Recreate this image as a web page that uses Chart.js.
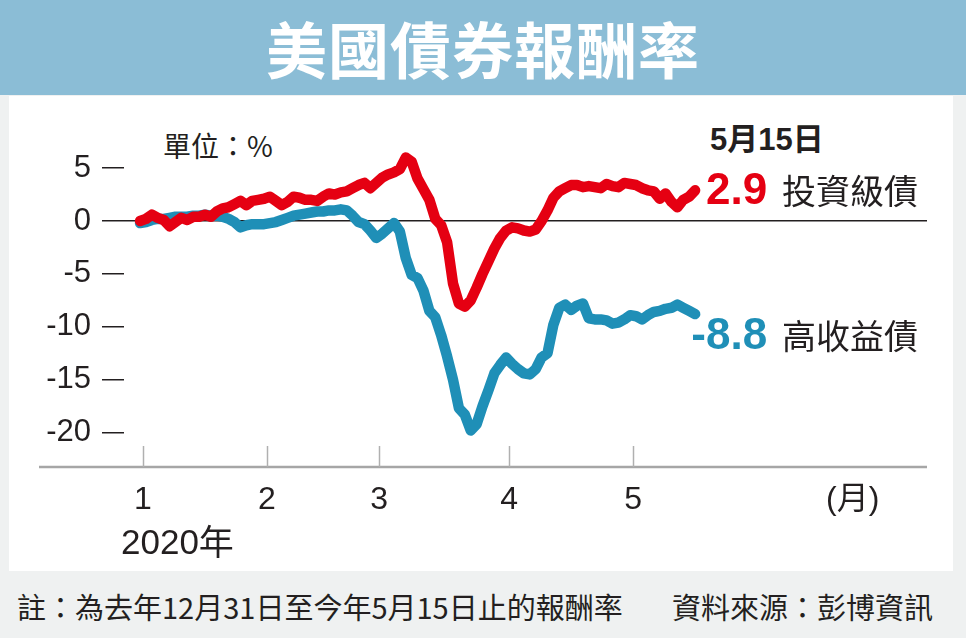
<!DOCTYPE html>
<html>
<head>
<meta charset="utf-8">
<script src="https://cdn.jsdelivr.net/npm/chart.js@4"></script>
<style>
  html, body { margin:0; padding:0; }
  body { width:966px; height:638px; background:#eff1f1; position:relative; overflow:hidden;
         font-family:"Noto Sans CJK TC","Noto Sans",sans-serif; }
  #titlebar { position:absolute; left:0; top:0; width:966px; height:95px; background:#8bbdd6;
              color:#fff; font-weight:bold; font-size:61px; line-height:95px; text-align:center; letter-spacing:1px; }
  #panel { position:absolute; left:9px; top:96px; width:944px; height:475px; background:#fff; }
  #unit { position:absolute; left:163px; top:125px; font-size:28px; color:#231f20; }
  #date { position:absolute; left:710px; top:114px; font-size:31px; font-weight:bold; color:#231f20;
          font-family:"Liberation Sans","Noto Sans CJK TC",sans-serif; }
  #date span { font-family:"Noto Sans CJK TC",sans-serif; }
  .foot { position:absolute; top:585px; font-size:29px; color:#231f20; white-space:pre; }
  #note { left:17px; }
  #source { left:672px; }
  #chart { position:absolute; left:0; top:0; }
</style>
</head>
<body>
<div id="titlebar">美國債券報酬率</div>
<div id="panel"></div>
<div id="unit">單位：%</div>
<div id="date">5<span>月</span>15<span>日</span></div>
<div class="foot" id="note">註：為去年12月31日至今年5月15日止的報酬率</div>
<div class="foot" id="source">資料來源：彭博資訊</div>
<canvas id="chart" width="966" height="638"></canvas>
<script>
// trading-day index (0 = 2019-12-31, 94 = 2020-05-15)
const tradingDay = [0,1,2,3,4,5,6,7,8,9,10,11,12,13,14,15,16,17,18,19,20,21,22,23,24,25,26,27,28,29,30,31,32,33,34,35,36,37,38,39,40,41,42,43,44,45,46,47,48,49,50,51,52,53,54,55,56,57,58,59,60,61,62,63,64,65,66,67,68,69,70,71,72,73,74,75,76,77,78,79,80,81,82,83,84,85,86,87,88,89,90,91,92,93,94];

// 投資級債 (investment grade) cumulative return, %
const investmentGrade = [0,0.2,0.6,0.3,0.1,-0.5,-0.1,0.3,0.1,0.4,0.4,0.6,0.4,0.9,1.2,1.3,1.6,1.9,1.5,1.9,2.0,2.1,2.3,1.9,1.5,1.8,2.3,2.2,2.0,2.0,1.9,2.3,2.6,2.5,2.7,2.8,3.1,3.4,3.6,3.1,3.6,4.1,4.4,4.6,4.9,6.0,5.6,4.0,3.0,2.0,0.2,-0.4,-2.0,-5.9,-7.8,-8.1,-7.5,-6.3,-5.0,-3.8,-2.6,-1.6,-0.9,-0.6,-0.7,-0.9,-1.0,-0.8,0.0,1.0,2.2,2.8,3.1,3.4,3.4,3.2,3.3,3.2,3.1,3.5,3.3,3.2,3.6,3.5,3.4,3.1,2.9,2.8,2.1,2.6,1.8,1.3,2.0,2.3,2.9];

// 高收益債 (high yield) cumulative return, %
const highYield = [-0.2,-0.1,0.1,0.2,0.2,0.3,0.4,0.4,0.4,0.5,0.5,0.6,0.5,0.5,0.4,0.2,-0.1,-0.6,-0.4,-0.3,-0.3,-0.3,-0.2,-0.1,0.1,0.3,0.5,0.6,0.7,0.8,0.9,0.9,1.0,1.0,1.1,1.0,0.5,-0.1,-0.3,-0.9,-1.6,-1.2,-0.7,-0.2,-1.0,-3.5,-5.1,-5.4,-6.6,-8.5,-9.1,-10.8,-12.8,-15.0,-17.7,-18.3,-19.8,-19.2,-17.5,-16.0,-14.4,-13.6,-12.9,-13.5,-14.0,-14.4,-14.5,-14.0,-12.9,-12.5,-9.8,-8.2,-7.9,-8.4,-8.0,-7.8,-9.2,-9.3,-9.3,-9.4,-9.7,-9.6,-9.3,-8.9,-9.0,-9.3,-8.9,-8.6,-8.5,-8.3,-8.2,-7.9,-8.2,-8.5,-8.8];

const seriesNames = ['投資級債', '高收益債'];
const endValueLabels = ['2.9', '-8.8'];

// x-axis ticks: month starts (between trading days), plus unit label
const monthTickPos = [0.5, 21.5, 40.5, 62.5, 83.5];
const monthTickLabels = ['1', '2', '3', '4', '5'];
const unitTickPos = 120.7;
const unitTickLabel = '(月)';
const yearLabel = '2020年';

const yTicks = [5, 0, -5, -10, -15, -20];

const RED = '#e50012';
const BLUE = '#1f8fb7';
const TEXT = '#231f20';

const xTickValues = monthTickPos.concat([unitTickPos]);
const xTickLabels = monthTickLabels.concat([unitTickLabel]);

const decoPlugin = {
  id: 'deco',
  beforeDatasetsDraw(chart) {
    const {ctx, chartArea, scales} = chart;
    const xs = scales.x;
    ctx.save();
    // x axis baseline (extends left past y labels)
    ctx.strokeStyle = '#a6a6a6';
    ctx.lineWidth = 2.5;
    ctx.beginPath();
    ctx.moveTo(39, chartArea.bottom);
    ctx.lineTo(chartArea.right, chartArea.bottom);
    ctx.stroke();
    // upward month tick marks
    ctx.lineWidth = 1.5;
    ctx.strokeStyle = '#b0b0b0';
    monthTickPos.forEach(v => {
      const px = Math.round(xs.getPixelForValue(v)) + 0.5;
      ctx.beginPath();
      ctx.moveTo(px, chartArea.bottom - 21);
      ctx.lineTo(px, chartArea.bottom);
      ctx.stroke();
    });
    // year label under first month
    ctx.fillStyle = TEXT;
    ctx.font = '35px "Liberation Sans", "Noto Sans CJK TC", sans-serif';
    ctx.textAlign = 'left';
    ctx.textBaseline = 'middle';
    const x0 = xs.getPixelForValue(monthTickPos[0]);
    ctx.fillText(yearLabel.slice(0, 4), x0 - 22, chartArea.bottom + 77);
    const w = ctx.measureText(yearLabel.slice(0, 4)).width;
    ctx.font = '35px "Noto Sans CJK TC", sans-serif';
    ctx.fillText(yearLabel.slice(4), x0 - 22 + w, chartArea.bottom + 75);
    ctx.restore();
  },
  afterDatasetsDraw(chart) {
    const {ctx} = chart;
    const offsets = [1, 22];
    const colors = [RED, BLUE];
    ctx.save();
    chart.data.datasets.forEach((ds, i) => {
      const meta = chart.getDatasetMeta(i);
      const last = meta.data[meta.data.length - 1];
      const y = last.y + offsets[i];
      ctx.textBaseline = 'middle';
      ctx.textAlign = 'right';
      ctx.fillStyle = colors[i];
      ctx.font = 'bold 44px "Liberation Sans", Arial, sans-serif';
      ctx.fillText(endValueLabels[i], last.x + 72, y + 1);
      ctx.textAlign = 'left';
      ctx.fillStyle = TEXT;
      ctx.font = '34px "Noto Sans CJK TC", sans-serif';
      ctx.fillText(seriesNames[i], last.x + 87, y);
    });
    ctx.restore();
  }
};

new Chart(document.getElementById('chart'), {
  type: 'line',
  data: {
    datasets: [
      {
        label: seriesNames[0],
        data: tradingDay.map((d, i) => ({x: d, y: investmentGrade[i]})),
        borderColor: RED,
        borderWidth: 10.5,
        borderJoinStyle: 'round',
        borderCapStyle: 'round',
        pointRadius: 0,
        tension: 0
      },
      {
        label: seriesNames[1],
        data: tradingDay.map((d, i) => ({x: d, y: highYield[i]})),
        borderColor: BLUE,
        borderWidth: 10.5,
        borderJoinStyle: 'round',
        borderCapStyle: 'round',
        pointRadius: 0,
        tension: 0
      }
    ]
  },
  options: {
    responsive: false,
    animation: false,
    events: [],
    layout: { padding: { left: 0, right: 39, top: 130, bottom: 100 } },
    plugins: { legend: { display: false }, tooltip: { enabled: false } },
    scales: {
      x: {
        type: 'linear',
        min: -2.72,
        max: 133.27,
        afterBuildTicks(scale) { scale.ticks = xTickValues.map(v => ({value: v})); },
        afterFit(scale) { scale.height = 71; },
        grid: { display: false, drawTicks: false },
        border: { display: false },
        ticks: {
          autoSkip: false,
          maxRotation: 0,
          padding: 14,
          color: TEXT,
          font: { family: '"Liberation Sans", "Noto Sans CJK TC", sans-serif', size: 32 },
          callback: (v, idx) => xTickLabels[idx]
        }
      },
      y: {
        type: 'linear',
        min: -23.25,
        max: 8.6,
        afterBuildTicks(scale) { scale.ticks = yTicks.map(v => ({value: v})); },
        afterFit(scale) { scale.width = 124; },
        border: { display: false },
        grid: {
          color: ctx => (ctx.tick && ctx.tick.value === 0) ? '#231f20' : 'rgba(0,0,0,0)',
          lineWidth: 1.5,
          tickColor: '#231f20',
          tickLength: 22,
          drawTicks: true
        },
        ticks: {
          padding: 11,
          color: TEXT,
          font: { family: '"Liberation Sans", Arial, sans-serif', size: 31 },
          callback: v => String(v)
        }
      }
    }
  },
  plugins: [decoPlugin]
});
</script>
</body>
</html>
